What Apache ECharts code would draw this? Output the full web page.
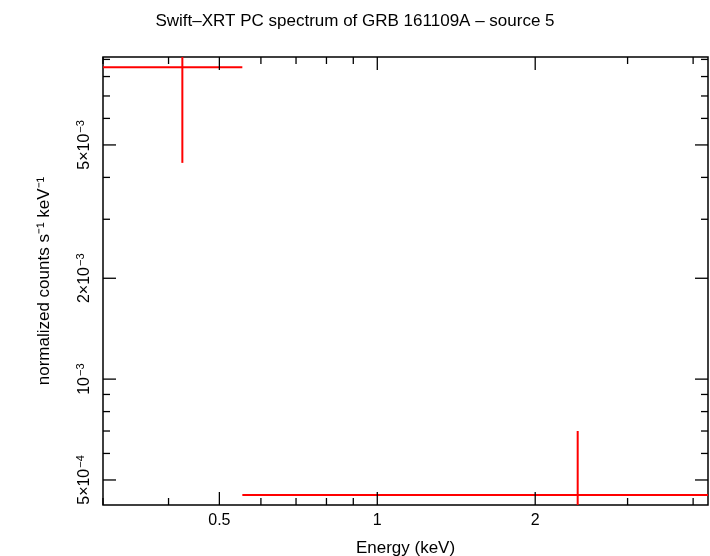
<!DOCTYPE html>
<html>
<head>
<meta charset="utf-8">
<script src="https://cdn.jsdelivr.net/npm/echarts@6/dist/echarts.min.js"></script>
<style>html,body{margin:0;padding:0;background:#fff}#chart{width:710px;height:556px}</style>
</head>
<body>
<div id="chart"></div>
<script>
// axis ranges (keV, counts s^-1 keV^-1)
var xRange = [0.30, 4.27];
var yRange = [4.21e-4, 9.15e-3];

// spectrum bins: [eLow, eHigh, eCentre, flux, fluxLow, fluxHigh]
var bins = [
    [0.30, 0.553, 0.425, 8.53e-3, 4.42e-3, 2e-2],
    [0.553, 10, 2.41, 4.51e-4, 1e-4, 7.0e-4]
];

var xMajor = [0.5, 1, 2];
var xMajorLabels = ['0.5', '1', '2'];
var xMinor = [0.3, 0.4, 0.6, 0.7, 0.8, 0.9, 3, 4];
var yMajor = [5e-4, 1e-3, 2e-3, 5e-3];
var yMajorLabels = [['5×10', '−4'], ['10', '−3'], ['2×10', '−3'], ['5×10', '−3']];
var yMinor = [6e-4, 7e-4, 8e-4, 9e-4, 3e-3, 4e-3, 6e-3, 7e-3, 8e-3, 9e-3];

var chart = echarts.init(document.getElementById('chart'));
var font = 'Liberation Sans, Arial, sans-serif';

var tickData = [];
xMajor.forEach(function (v, i) { tickData.push(['x', v, 1, i]); });
xMinor.forEach(function (v) { tickData.push(['x', v, 0, -1]); });
yMajor.forEach(function (v, i) { tickData.push(['y', v, 1, i]); });
yMinor.forEach(function (v) { tickData.push(['y', v, 0, -1]); });

function renderTick(params, api) {
    var axis = tickData[params.dataIndex][0];
    var v = tickData[params.dataIndex][1];
    var major = tickData[params.dataIndex][2];
    var li = tickData[params.dataIndex][3];
    var lo = api.coord([xRange[0], yRange[0]]);
    var hi = api.coord([xRange[1], yRange[1]]);
    var len = major ? 13 : 7;
    var ls = { stroke: '#000', lineWidth: 1.3 };
    var children = [];
    if (axis === 'x') {
        var px = api.coord([v, yRange[0]])[0];
        children.push({ type: 'line', shape: { x1: px, y1: lo[1], x2: px, y2: lo[1] - len }, style: ls });
        children.push({ type: 'line', shape: { x1: px, y1: hi[1], x2: px, y2: hi[1] + len }, style: ls });
        if (li >= 0) children.push({ type: 'text', x: px, y: lo[1] + 8, style: {
            text: xMajorLabels[li], font: '16px ' + font, fill: '#000', align: 'center', verticalAlign: 'top' } });
    } else {
        var py = api.coord([xRange[0], v])[1];
        children.push({ type: 'line', shape: { x1: lo[0], y1: py, x2: lo[0] + len, y2: py }, style: ls });
        children.push({ type: 'line', shape: { x1: hi[0], y1: py, x2: hi[0] - len, y2: py }, style: ls });
        if (li >= 0) children.push({ type: 'text', x: 85, y: py, rotation: Math.PI / 2, style: {
            text: '{b|' + yMajorLabels[li][0] + '}{s|' + yMajorLabels[li][1] + '}',
            align: 'center', verticalAlign: 'middle',
            rich: { b: { font: '16px ' + font, fill: '#000' },
                    s: { font: '11px ' + font, fill: '#000', verticalAlign: 'top', padding: [0, 0, 8, 1] } } } });
    }
    return { type: 'group', children: children };
}

function renderBin(params, api) {
    var a = api.coord([api.value(0), api.value(3)]);
    var b = api.coord([api.value(1), api.value(3)]);
    var c = api.coord([api.value(2), api.value(4)]);
    var d = api.coord([api.value(2), api.value(5)]);
    var st = { stroke: '#f00', lineWidth: 2 };
    return { type: 'group', children: [
        { type: 'line', shape: { x1: a[0], y1: a[1], x2: b[0], y2: b[1] }, style: st },
        { type: 'line', shape: { x1: c[0], y1: c[1], x2: d[0], y2: d[1] }, style: st }
    ] };
}

var option = {
    animation: false,
    title: { text: 'Swift–XRT PC spectrum of GRB 161109A – source 5', left: 'center', top: 8,
        textStyle: { fontFamily: font, fontSize: 17, fontWeight: 'normal', color: '#000' } },
    grid: { left: 103, right: 2, top: 57, bottom: 51, show: true, borderColor: '#000', borderWidth: 1.5, backgroundColor: '#fff', outerBoundsMode: 'none' },
    xAxis: { type: 'log', min: xRange[0], max: xRange[1], logBase: 10,
        name: 'Energy (keV)', nameLocation: 'middle', nameGap: 35,
        nameTextStyle: { fontFamily: font, fontSize: 17, color: '#000' },
        axisLine: { show: false }, axisTick: { show: false }, axisLabel: { show: false }, splitLine: { show: false } },
    yAxis: { type: 'log', min: yRange[0], max: yRange[1], logBase: 10,
        name: 'normalized counts s⁻¹ keV⁻¹', nameLocation: 'middle', nameGap: 50,
        nameTextStyle: { fontFamily: font, fontSize: 17, color: '#000' },
        axisLine: { show: false }, axisTick: { show: false }, axisLabel: { show: false }, splitLine: { show: false } },
    series: [
        { type: 'custom', renderItem: renderBin, data: bins, clip: true, silent: true },
        { type: 'custom', renderItem: renderTick, data: tickData.map(function (t) { return [t[1], yRange[0]]; }), clip: false, silent: true }
    ]
};
chart.setOption(option);
window.onresize = chart.resize;
</script>
</body>
</html>
